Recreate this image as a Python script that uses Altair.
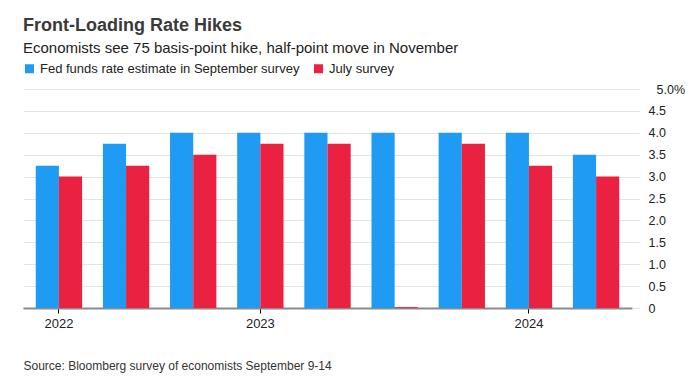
import altair as alt
import pandas as pd

periods = ["Sep 2022", "Nov 2022", "Dec 2022", "1Q 2023", "2Q 2023",
           "3Q 2023", "4Q 2023", "1Q 2024", "2Q 2024"]
september = [3.25, 3.75, 4.0, 4.0, 4.0, 4.0, 4.0, 4.0, 3.5]
july = [3.0, 3.25, 3.5, 3.75, 3.75, 0.02, 3.75, 3.25, 3.0]
series_names = ["Fed funds rate estimate in September survey", "July survey"]
year_tick_periods = ["Sep 2022", "1Q 2023", "1Q 2024"]
y_ticks = [0, 0.5, 1.0, 1.5, 2.0, 2.5, 3.0, 3.5, 4.0, 4.5, 5.0]

BLUE = "#1f9bf3"
RED = "#ea2140"
FONT = "Liberation Sans"

rows = []
for p, s, j in zip(periods, september, july):
    rows.append({"period": p, "series": series_names[0], "rate": s})
    rows.append({"period": p, "series": series_names[1], "rate": j})
df = pd.DataFrame(rows)

chart = alt.Chart(df).mark_bar().encode(
    x=alt.X(
        "period:N", sort=periods,
        scale=alt.Scale(paddingInner=0.31, paddingOuter=0.19),
        axis=alt.Axis(
            values=year_tick_periods, labelExpr="slice(datum.label, -4)",
            labelAngle=0, tickSize=5, tickColor="#000", tickWidth=1,
            domainColor="#8a8a8a", domainWidth=2, labelFontSize=13,
            labelColor="#222", labelPadding=4,
            title="Source: Bloomberg survey of economists September 9-14",
            titleX=0, titleY=57, titleAlign="left", titleAnchor="start",
            titleBaseline="middle", titleFontWeight="normal",
            titleFontSize=12, titleColor="#333",
        ),
    ),
    xOffset=alt.XOffset("series:N", sort=series_names),
    y=alt.Y(
        "rate:Q", stack=None, scale=alt.Scale(domain=[0, 5], nice=False),
        axis=alt.Axis(
            orient="right", values=y_ticks, title=None,
            labelExpr="datum.value == 5 ? '5.0%' : (datum.value == 0 ? '0' : format(datum.value, '.1f'))",
            grid=True, gridColor="#e3e3e3", gridWidth=1,
            tickSize=8, tickColor="#e3e3e3", domain=False,
            labelPadding={"condition": {"test": "datum.value == 5", "value": 16}, "value": 8},
            labelFontSize=12.5, labelColor="#222",
        ),
    ),
    color=alt.Color(
        "series:N", sort=series_names,
        scale=alt.Scale(domain=series_names, range=[BLUE, RED]),
        legend=alt.Legend(
            orient="none", legendX=0, legendY=-27, direction="horizontal",
            title=None, symbolType="square", symbolSize=81,
            symbolStrokeWidth=0, labelFontSize=13, labelColor="#222",
            columnPadding=12, labelLimit=400,
        ),
    ),
).properties(
    width=609, height=219,
    autosize=alt.AutoSizeParams(type="none"),
    padding={"left": 15, "top": 81, "right": 53, "bottom": 68},
    title=alt.TitleParams(
        text="Front-Loading Rate Hikes",
        subtitle="Economists see 75 basis-point hike, half-point move in November",
        anchor="start", frame="group", fontSize=18, fontWeight="bold",
        color="#3a3a3a", subtitleFontSize=15, subtitleColor="#222",
        subtitlePadding=6, offset=6,
    ),
).configure(font=FONT).configure_view(stroke=None)

chart.save("out.html", embed_options={"renderer": "svg", "actions": False})
